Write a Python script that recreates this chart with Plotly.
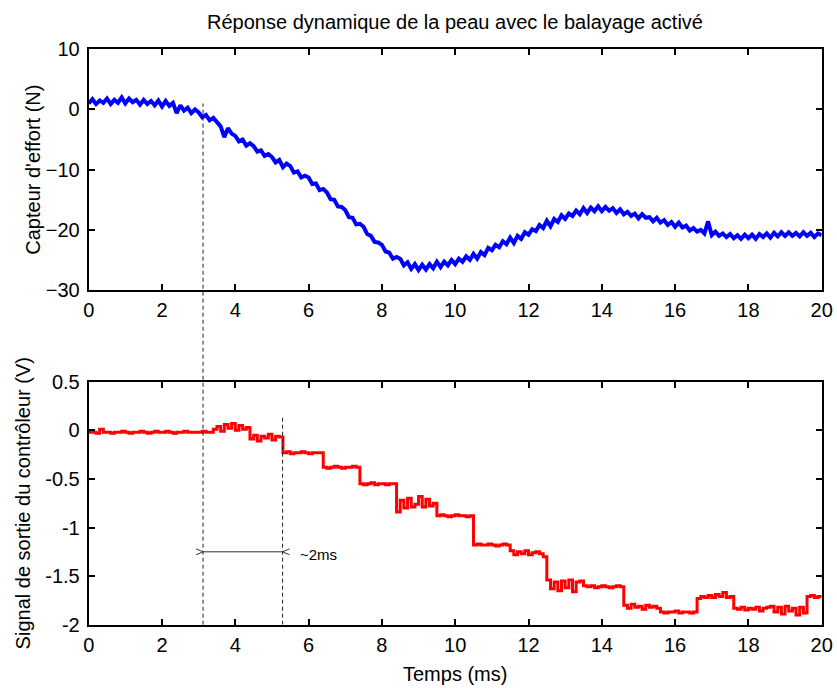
import plotly.graph_objects as go

# ---------------- data ----------------
time_top = [round(i * 0.1, 1) for i in range(201)]  # ms
force = [
    1.0, 1.7, 0.9, 1.5, 1.1,   1.8, 0.9, 1.6, 1.1, 2.0,
    1.0, 1.8, 1.2, 1.6, 0.8,   1.6, 0.9, 1.4, 0.7, 1.5,
    0.5, 1.4, 0.6, 1.1, -0.6,  0.7, -0.2, 0.3, -0.6, 0.0,
    -0.5, -1.3, -0.9, -1.8, -1.4,  -2.0, -2.8, -4.6, -3.1, -4.0,
    -4.4, -5.3, -5.0, -6.0, -5.6,  -6.1, -7.0, -6.8, -7.7, -7.4,
    -7.9, -8.8, -8.4, -9.6, -9.0,  -9.4, -10.5, -10.3, -11.3, -11.0,
    -11.3, -12.4, -12.3, -13.4, -13.2,  -13.8, -14.9, -15.0, -16.1, -16.2,
    -16.7, -17.9, -18.0, -19.1, -19.0,  -19.5, -20.7, -21.0, -22.0, -22.1,
    -22.5, -23.6, -23.8, -24.8, -24.5,  -24.8, -25.9, -25.4, -26.5, -25.7,
    -26.7, -25.8, -26.6, -25.7, -26.4,  -25.3, -26.2, -25.3, -25.9, -25.0,
    -25.7, -24.8, -25.3, -24.4, -25.0,  -24.0, -24.8, -23.7, -24.2, -23.0,
    -23.4, -22.5, -22.9, -21.9, -22.4,  -21.3, -22.2, -21.0, -21.5, -20.4,
    -20.8, -19.9, -20.2, -19.2, -19.7,  -18.5, -19.4, -18.2, -18.7, -17.6,
    -18.2, -17.3, -17.7, -16.8, -17.4,  -16.4, -17.2, -16.3, -16.9, -16.1,
    -16.9, -16.2, -16.8, -16.4, -17.2,  -16.6, -17.4, -17.0, -17.7, -17.3,
    -18.1, -17.4, -18.0, -17.9, -18.6,  -18.0, -18.8, -18.4, -19.2, -18.7,
    -19.5, -18.8, -19.6, -19.3, -20.1,  -19.7, -20.3, -20.0, -20.6, -18.6,
    -20.9, -20.3, -21.0, -20.6, -21.2,  -20.7, -21.4, -20.9, -21.5, -20.8,
    -21.4, -20.8, -21.5, -20.7, -21.2,  -20.6, -21.3, -20.5, -21.1, -20.4,
    -21.0, -20.4, -21.0, -20.5, -21.1,  -20.4, -21.0, -20.5, -21.2, -20.6,
    -20.9,
]

time_bot = [round(i * 0.1, 1) for i in range(201)]  # ms
signal = [
    # 0.0 - 3.3
    -0.02, -0.02, -0.03, 0.01, -0.02, -0.02, -0.03, -0.02, -0.02, -0.01,
    -0.02, -0.03, -0.02, -0.02, -0.01, -0.02, -0.03, -0.02, -0.01, -0.02,
    -0.02, -0.01, -0.02, -0.03, -0.02, -0.02, -0.01, -0.02, -0.02, -0.02,
    -0.02, -0.01, -0.02, -0.02,
    # 3.4 - 4.3
    0.01, 0.04, -0.01, 0.06, 0.02, 0.07, 0.00, 0.05, 0.01, 0.03,
    # 4.4 - 5.2
    -0.09, -0.05, -0.11, -0.06, -0.08, -0.04, -0.10, -0.06, -0.07,
    # 5.3 - 6.3
    -0.23, -0.22, -0.24, -0.23, -0.23, -0.22, -0.23, -0.24, -0.23, -0.23, -0.23,
    # 6.4 - 7.3
    -0.38, -0.39, -0.38, -0.37, -0.38, -0.39, -0.38, -0.38, -0.37, -0.38,
    # 7.4 - 8.3
    -0.55, -0.56, -0.55, -0.54, -0.56, -0.55, -0.55, -0.56, -0.55, -0.55,
    # 8.4 - 9.4
    -0.84, -0.72, -0.80, -0.70, -0.79, -0.76, -0.68, -0.79, -0.71, -0.78, -0.75,
    # 9.5 - 10.4
    -0.88, -0.87, -0.88, -0.89, -0.88, -0.87, -0.88, -0.88, -0.89, -0.88,
    # 10.5 - 11.4
    -1.18, -1.17, -1.18, -1.18, -1.17, -1.18, -1.19, -1.18, -1.17, -1.18,
    # 11.5 - 12.4
    -1.24, -1.28, -1.25, -1.27, -1.24, -1.28, -1.26, -1.25, -1.27, -1.30,
    # 12.5 - 13.4
    -1.54, -1.63, -1.56, -1.65, -1.55, -1.62, -1.54, -1.66, -1.56, -1.55,
    # 13.5 - 14.5
    -1.60, -1.61, -1.60, -1.62, -1.61, -1.60, -1.61, -1.62, -1.61, -1.60, -1.61,
    # 14.6 - 15.5
    -1.80, -1.83, -1.79, -1.82, -1.81, -1.84, -1.80, -1.82, -1.81, -1.83,
    # 15.6 - 16.5
    -1.87, -1.88, -1.87, -1.87, -1.86, -1.88, -1.87, -1.87, -1.88, -1.87,
    # 16.6 - 17.5
    -1.73, -1.71, -1.72, -1.70, -1.72, -1.69, -1.71, -1.67, -1.72, -1.71,
    # 17.6 - 18.5
    -1.83, -1.84, -1.82, -1.85, -1.83, -1.84, -1.82, -1.86, -1.83, -1.82,
    # 18.6 - 19.5
    -1.81, -1.87, -1.82, -1.89, -1.81, -1.86, -1.83, -1.90, -1.82, -1.88,
    # 19.6 - 20.0
    -1.71, -1.70, -1.72, -1.71, -1.71,
]

x_ticks = [0, 2, 4, 6, 8, 10, 12, 14, 16, 18, 20]
force_ticks = [-30, -20, -10, 0, 10]
signal_ticks = [-2, -1.5, -1, -0.5, 0, 0.5]
signal_tick_text = ["-2", "-1.5", "-1", "-0.5", "0", "0.5"]

marker_t1 = 3.12      # first dashed marker (ms)
marker_t2 = 5.29      # second dashed marker (ms)
marker_f_top = 1.0    # where the first marker starts on the force axis
marker_s_top = 0.13   # where the second marker starts on the signal axis
span_level = -1.25    # level of the ~2ms span arrow

# ---------------- layout constants ----------------
W, H = 837, 688
FONT = "Liberation Sans, Arial, Helvetica, sans-serif"
X_DOM = [88.7 / W, 821.7 / W]
Y_TOP = [1 - 290.0 / H, 1 - 49.3 / H]
Y_BOT = [1 - 624.7 / H, 1 - 381.7 / H]
F_RANGE = [-30, 10]
S_RANGE = [-2, 0.5]

fig = go.Figure()
fig.add_trace(go.Scatter(x=time_top, y=force, mode="lines",
                         line=dict(color="#0000FF", width=4),
                         xaxis="x", yaxis="y", showlegend=False))
fig.add_trace(go.Scatter(x=time_bot, y=signal, mode="lines",
                         line=dict(color="#FF0000", width=3, shape="hv"),
                         xaxis="x2", yaxis="y2", showlegend=False))

axis_common = dict(showline=True, linecolor="black", linewidth=2,
                   mirror="allticks", ticks="inside", ticklen=6,
                   tickwidth=1.5, tickcolor="black", showgrid=False,
                   zeroline=False, automargin=False,
                   tickfont=dict(family=FONT, size=20, color="black"))

fig.update_layout(
    width=W, height=H,
    margin=dict(l=0, r=0, t=0, b=0),
    paper_bgcolor="white", plot_bgcolor="white",
    font=dict(family=FONT, color="black"),
    title=dict(text="Réponse dynamique de la peau avec le balayage activé",
               x=455 / W, xanchor="center", y=1 - 22 / H, yanchor="middle",
               font=dict(family=FONT, size=20, color="black")),
    xaxis=dict(domain=X_DOM, anchor="y", range=[0, 20], tickvals=x_ticks,
               ticklabelstandoff=1, **axis_common),
    yaxis=dict(domain=Y_TOP, anchor="x", range=F_RANGE, tickvals=force_ticks,
               ticklabelstandoff=3,
               title=dict(text="Capteur d'effort (N)", standoff=0,
                          font=dict(family=FONT, size=20, color="black")),
               **axis_common),
    xaxis2=dict(domain=X_DOM, anchor="y2", range=[0, 20], tickvals=x_ticks,
                ticklabelstandoff=1,
                title=dict(text="Temps (ms)", standoff=12,
                           font=dict(family=FONT, size=20, color="black")),
                **axis_common),
    yaxis2=dict(domain=Y_BOT, anchor="x2", range=S_RANGE, tickvals=signal_ticks,
                ticktext=signal_tick_text, ticklabelstandoff=3,
                title=dict(text="Signal de sortie du contrôleur (V)", standoff=9,
                           font=dict(family=FONT, size=20, color="black")),
                **axis_common),
)

# dashed marker crossing both panels
y1_paper = Y_TOP[0] + (marker_f_top - F_RANGE[0]) / (F_RANGE[1] - F_RANGE[0]) * (Y_TOP[1] - Y_TOP[0])
dash_style = dict(color="#222222", width=1, dash="4px,3px")
fig.add_shape(type="line", xref="x", yref="paper", x0=marker_t1, x1=marker_t1,
              y0=Y_BOT[0], y1=y1_paper, line=dash_style)
fig.add_shape(type="line", xref="x2", yref="y2", x0=marker_t2, x1=marker_t2,
              y0=S_RANGE[0], y1=marker_s_top, line=dash_style)

# ~2ms span
span_color = "#333333"
fig.add_shape(type="line", xref="x2", yref="y2", x0=marker_t1, x1=marker_t2,
              y0=span_level, y1=span_level, line=dict(color=span_color, width=1))
dx, dy = 0.19, 0.03
fig.add_shape(type="path", xref="x2", yref="y2",
              path=f"M {marker_t1 - dx},{span_level + dy} L {marker_t1},{span_level} L {marker_t1 - dx},{span_level - dy}",
              line=dict(color=span_color, width=1))
fig.add_shape(type="path", xref="x2", yref="y2",
              path=f"M {marker_t2 + dx},{span_level + dy} L {marker_t2},{span_level} L {marker_t2 + dx},{span_level - dy}",
              line=dict(color=span_color, width=1))
fig.add_annotation(x=marker_t2 + 0.42, y=span_level - 0.03, xref="x2", yref="y2",
                   text="~2ms", showarrow=False, xanchor="left", yanchor="middle",
                   font=dict(family=FONT, size=15, color="black"))

# the page's default 8px body margin would shift the figure; remove it
fig.write_html("out.html", config={"displayModeBar": False},
               post_script="document.body.style.margin='0px';")
